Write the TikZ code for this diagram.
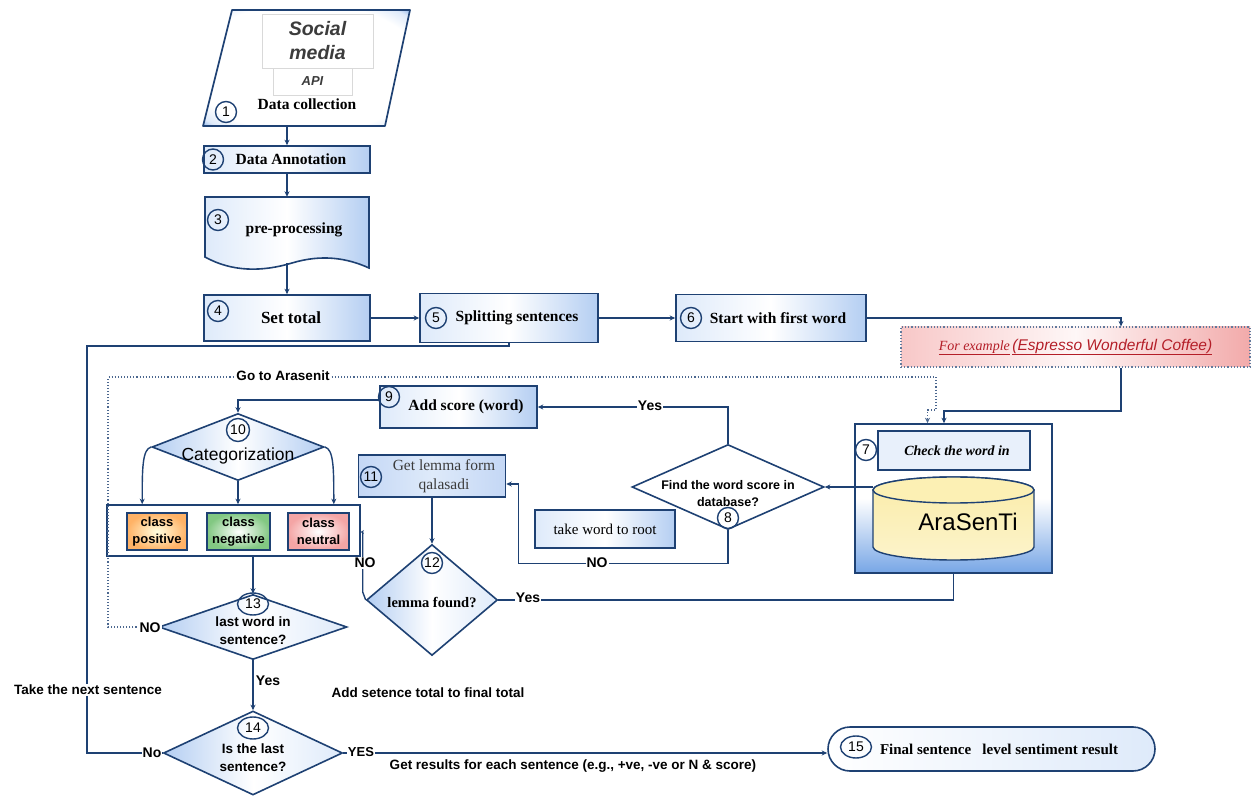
\documentclass[tikz,border=0pt]{standalone}
\usepackage{fontspec}
\setmainfont{Liberation Serif}
\setsansfont{Liberation Sans}
\usetikzlibrary{shapes.geometric,arrows.meta,calc}
\definecolor{lc}{RGB}{30,65,115}
\definecolor{bA}{RGB}{222,234,250}
\definecolor{bB}{RGB}{180,206,242}
\definecolor{bC}{RGB}{95,150,225}
\definecolor{bD}{RGB}{196,215,245}
\definecolor{exred}{RGB}{180,30,40}
\definecolor{pinkA}{RGB}{248,200,200}
\definecolor{pinkB}{RGB}{242,170,170}
\definecolor{cylY}{RGB}{250,236,168}
\definecolor{cylT}{RGB}{252,240,180}
\definecolor{gtxt}{RGB}{60,60,60}
\definecolor{dgrey}{RGB}{60,60,60}
\pgfdeclareradialshading{pararad}{\pgfpoint{0bp}{0bp}}{color(0bp)=(white); color(28bp)=(white); color(33bp)=(bA); color(37bp)=(bC); color(50bp)=(bC)}
\begin{document}
\begin{tikzpicture}[x=1pt,y=-1pt,
  line/.style={draw=lc, line width=1.4pt},
  arr/.style={line, -{Stealth[length=5.5pt,width=5pt]}},
  dotl/.style={draw=lc!80, line width=1.1pt, dotted, -{Stealth[length=5.5pt,width=5pt]}},
  box/.style={draw=lc, line width=1.6pt, inner sep=0pt, left color=bA, right color=bB, middle color=white},
  dia/.style={diamond, draw=lc, line width=1.6pt, inner sep=0pt, left color=bB, right color=bA, middle color=white},
  num/.style={circle, draw=lc, line width=1.4pt, inner sep=0pt, minimum size=21pt, font=\sffamily\fontsize{14}{14}\selectfont},
  numE/.style={ellipse, draw=lc, line width=1.4pt, inner sep=0pt, minimum width=31pt, minimum height=22pt, font=\sffamily\fontsize{14}{14}\selectfont},
  st/.style={font=\bfseries\fontsize{15.5}{18}\selectfont},
  ds/.style={font=\sffamily\bfseries\fontsize{13.5}{18}\selectfont, align=center, inner sep=0pt},
  lbl/.style={font=\sffamily\bfseries\fontsize{14}{16}\selectfont, fill=white, inner sep=1pt},
  free/.style={font=\sffamily\bfseries\fontsize{14}{16}\selectfont, inner sep=1pt},
  cls/.style={draw=lc, line width=1.4pt, inner sep=0pt, minimum height=37pt, align=center, font=\sffamily\bfseries\fontsize{13}{17}\selectfont},
]
\useasboundingbox (0,0) rectangle (1253,799);

% ---------- 1 data collection
\draw[lc, line width=1.7pt, line join=round, shading=pararad] (232,10) -- (410,10) -- (385,126) -- (203,126) -- cycle;
\node[inner sep=0pt, minimum width=182pt, minimum height=116pt] (n1) at (287,68) {};
\node[draw=gray!30, line width=0.8pt, minimum width=111pt, minimum height=54pt, inner sep=0pt, align=center, font=\sffamily\bfseries\itshape\fontsize{19.5}{24}\selectfont, text=dgrey] (sm) at (317.5,41) {Social\\media};
\node[draw=gray!30, line width=0.8pt, minimum width=79pt, minimum height=27pt, inner sep=0pt, font=\sffamily\bfseries\itshape\fontsize{13}{15}\selectfont, text=dgrey] (api) at (312.5,81.5) {API};
\node[st] (t1) at (307,104) {Data collection};
\node[num] (k1) at (226,112) {1};

% ---------- 2
\node[box, st, minimum width=166pt, minimum height=27pt] (n2) at (287,159.5) {\hspace*{8pt}Data Annotation};
\node[num] (k2) at (213,159.5) {2};

% ---------- 3 document
\draw[lc, line width=1.6pt, left color=bA, right color=bB, middle color=white] (205,197) -- (369,197) -- (369,268) .. controls (347,258) and (322,254) .. (292,263) .. controls (262,272) and (232,272) .. (205,257) -- cycle;
\node[st, inner sep=0pt, minimum width=164pt, minimum height=66pt] (n3) at (287,230) {\hspace*{14pt}pre-processing};
\node[num] (k3) at (218,220) {3};

% ---------- 4,5,6
\node[box, font=\bfseries\fontsize{17}{20}\selectfont, minimum width=166pt, minimum height=46pt] (n4) at (287,318) {\hspace*{8pt}Set total};
\node[num] (k4) at (218,311) {4};
\node[box, st, minimum width=178pt, minimum height=49pt] (n5) at (509,318) {\hspace*{16pt}Splitting sentences};
\node[num] (k5) at (436,318) {5};
\node[box, st, minimum width=190pt, minimum height=47pt] (n6) at (771,318) {\hspace*{14pt}Start with first word};
\node[num] (k6) at (691,318) {6};

% ---------- example
\node[draw=lc!70, dotted, line width=1.2pt, minimum width=349pt, minimum height=40pt, inner sep=0pt, left color=pinkA, right color=pinkB, middle color=white!85!pinkA] (ex) at (1075.5,347) {\color{exred}\underline{\fontsize{14}{16}\selectfont\itshape For example}\ \underline{\sffamily\itshape\fontsize{15.5}{18}\selectfont (Espresso Wonderful Coffee)}};

% ---------- 7 container
\node[draw=lc, line width=1.6pt, minimum width=197pt, minimum height=149pt, inner sep=0pt, top color=white, bottom color=bC!85, middle color=white] (c7) at (953.5,498.5) {};
\node[draw=lc, line width=1.4pt, minimum width=152pt, minimum height=39pt, inner sep=0pt, fill=bA!70, font=\bfseries\itshape\fontsize{14}{16}\selectfont] (chk) at (954,450.5) {\hspace*{6pt}Check the word in};
\node[num, fill=white] (k7) at (866,450) {7};
% database cylinder
\draw[lc, line width=1.4pt, top color=cylY, bottom color=cylY!60!white] (873,490) -- (873,547) arc[start angle=180, end angle=360, x radius=80.5pt, y radius=13pt] -- (1034,490) arc[start angle=0, end angle=180, x radius=80.5pt, y radius=13pt] -- cycle;
\draw[lc, line width=1.4pt, fill=cylT] (953.5,490) ellipse [x radius=80.5pt, y radius=13pt];
\node[inner sep=0pt, minimum width=161pt, minimum height=83pt] (cyl) at (953.5,518.5) {};
\node[font=\sffamily\fontsize{24}{26}\selectfont] (cylt) at (968,522) {AraSenTi};

% ---------- 8
\node[diamond, draw=lc, line width=1.6pt, inner sep=0pt, fill=white, minimum width=192pt, minimum height=85pt] (d8) at (728,487) {};
\node[ds, font=\sffamily\bfseries\fontsize{12.5}{17}\selectfont] (t8) at (728,494) {Find the word score in\\database?};
\node[num] (k8) at (728,518) {8};

% ---------- 9
\node[box, st, minimum width=157pt, minimum height=42pt] (n9) at (458.5,407) {\hspace*{15pt}Add score (word)};
\node[num] (k9) at (389,397) {9};

% ---------- 10
\node[dia, left color=bB, right color=bB, middle color=white, minimum width=172pt, minimum height=67pt] (d10) at (238,447) {};
\node[font=\sffamily\fontsize{17.5}{20}\selectfont] (t10) at (238,456) {Categorization};
\node[num, minimum size=23pt] (k10) at (238,430) {10};

% ---------- classes
\node[draw=lc, line width=1.6pt, fill=white, minimum width=253pt, minimum height=51pt, inner sep=0pt] (clsb) at (233.5,530.5) {};
\node[cls, minimum width=60pt, inner color=yellow!12, outer color=orange!60] (cp) at (157,531.5) {class\\positive};
\node[cls, minimum width=63pt, inner color=white, outer color={rgb,255:red,130;green,200;blue,130}] (cn) at (238.5,531.5) {class\\negative};
\node[cls, minimum width=61pt, inner color=white, outer color={rgb,255:red,244;green,165;blue,165}] (cu) at (318.5,531.5) {class\\neutral};

% ---------- 13
\node[dia, minimum width=188pt, minimum height=65pt] (d13) at (253,627) {};
\node[ds] (t13) at (253,631) {last word in\\sentence?};
\node[numE] (k13) at (253,604) {13};

% ---------- 11
\node[draw=lc, line width=1.5pt, left color=bD, right color=bD, middle color=bA, minimum width=147pt, minimum height=42pt, inner sep=0pt] (n11) at (432,476) {};
\node[font=\fontsize{15.5}{19}\selectfont, text=gtxt, align=center] (t11) at (444,476) {Get lemma form\\qalasadi};
\node[num] (k11) at (371,477) {11};

% ---------- take word to root
\node[box, font=\fontsize{15}{17}\selectfont, minimum width=140pt, minimum height=38pt] (tw) at (605,529) {take word to root};

% ---------- 12
\node[dia, minimum width=131pt, minimum height=111pt] (d12) at (432,600) {};
\node[font=\bfseries\fontsize{14.5}{17}\selectfont] (t12) at (432,602) {lemma found?};
\node[num] (k12) at (432,563) {12};

% ---------- 14
\node[dia, minimum width=179pt, minimum height=84pt] (d14) at (253,753) {};
\node[ds] (t14) at (253,758) {Is the last\\sentence?};
\node[numE] (k14) at (253,728) {14};

% ---------- 15
\node[draw=lc, line width=1.6pt, rounded corners=22pt, minimum width=327pt, minimum height=44pt, inner sep=0pt, left color=white, right color=bA, font=\bfseries\fontsize{15}{17}\selectfont] (n15) at (991.5,749) {\hspace*{15pt}Final sentence\ \ \ level sentiment result};
\node[numE] (k15) at (856,747) {15};

% ---------- connectors
\coordinate (lp) at (87,346);
\coordinate (dl) at (108,377);
\coordinate (dr) at (936,410);
\draw[arr] (n1.south) -- (n2.north);
\draw[arr] (n2.south) -- (n3.north);
\draw[arr] (n3.south) -- (n4.north);
\draw[arr] (n4.east) -- (n5.west);
\draw[arr] (n5.east) -- (n6.west);
\draw[arr] (n6.east) -| ($(ex.north)+(45.5,0)$);
\draw[arr] ($(ex.south)+(45.5,0)$) |- ($(c7.north)+(-9.5,-12)$) -- ($(c7.north)+(-9.5,0)$);
\draw[dotl] (d13.west) -| (dl) -| (dr) -| ($(c7.north)+(-26,0)$);
\draw[arr] (cyl.west |- d8.east) -- (d8.east);
\draw[arr] (d8.north) |- (n9.east);
\draw[arr] ([yshift=7pt]n9.west) -| (d10.north);
\draw[arr] (d10.west) .. controls +(-9,2) and +(0,-35) .. ($(clsb.north west)+(36,0)$);
\draw[arr] (d10.south) -- (d10.south |- clsb.north);
\draw[arr] (d10.east) .. controls +(9,2) and +(0,-35) .. ($(clsb.north east)+(-27,0)$);
\draw[arr] (d13.north |- clsb.south) -- (d13.north);
\draw[arr] (n11.south) -- (d12.north);
\draw[arr] (d8.south) -- ++(0,33) -| ($(n11.east)+(12,8)$) -- ($(n11.east)+(0,8)$);
\draw[line, -{Stealth[length=3pt,width=4pt]}] (d12.west) -- ++(-3,-8) |- ($(clsb.east)+(0,1.5)$);
\draw[line] (d12.east) -| (c7.south);
\draw[arr] (d13.south) -- (d14.north);
\draw[line] (d14.west) -| (lp) -| (n5.south);
\draw[arr] (d14.east) -- (d14.east -| n15.west);

% ---------- labels
\node[lbl] (lNO13) at (150,628) {NO};
\node[lbl, font=\sffamily\bfseries\fontsize{13.5}{16}\selectfont] (lgo) at (283,376) {Go to Arasenit};
\node[lbl] (lNO12) at (365,563) {NO};
\node[lbl] (lY12) at (528,598) {Yes};
\node[lbl] (lY8) at (650,406) {Yes};
\node[lbl] (lNO8) at (597,563) {NO};
\node[free] (lY13) at (268,681) {Yes};
\node[lbl] (lNo14) at (152,753) {No};
\node[lbl, font=\sffamily\bfseries\fontsize{13}{16}\selectfont] (lY14) at (361,752) {YES};
\node[lbl, font=\sffamily\bfseries\fontsize{13.5}{16}\selectfont] (ltake) at (88,690) {Take the next sentence};
\node[free, font=\sffamily\bfseries\fontsize{13.5}{16}\selectfont] (ladd) at (428,693) {Add setence total to final total};
\node[free, font=\sffamily\bfseries\fontsize{13.5}{16}\selectfont] (lres) at (573,766) {Get results for each sentence (e.g., +ve, -ve or N \& score)};
\end{tikzpicture}
\end{document}
